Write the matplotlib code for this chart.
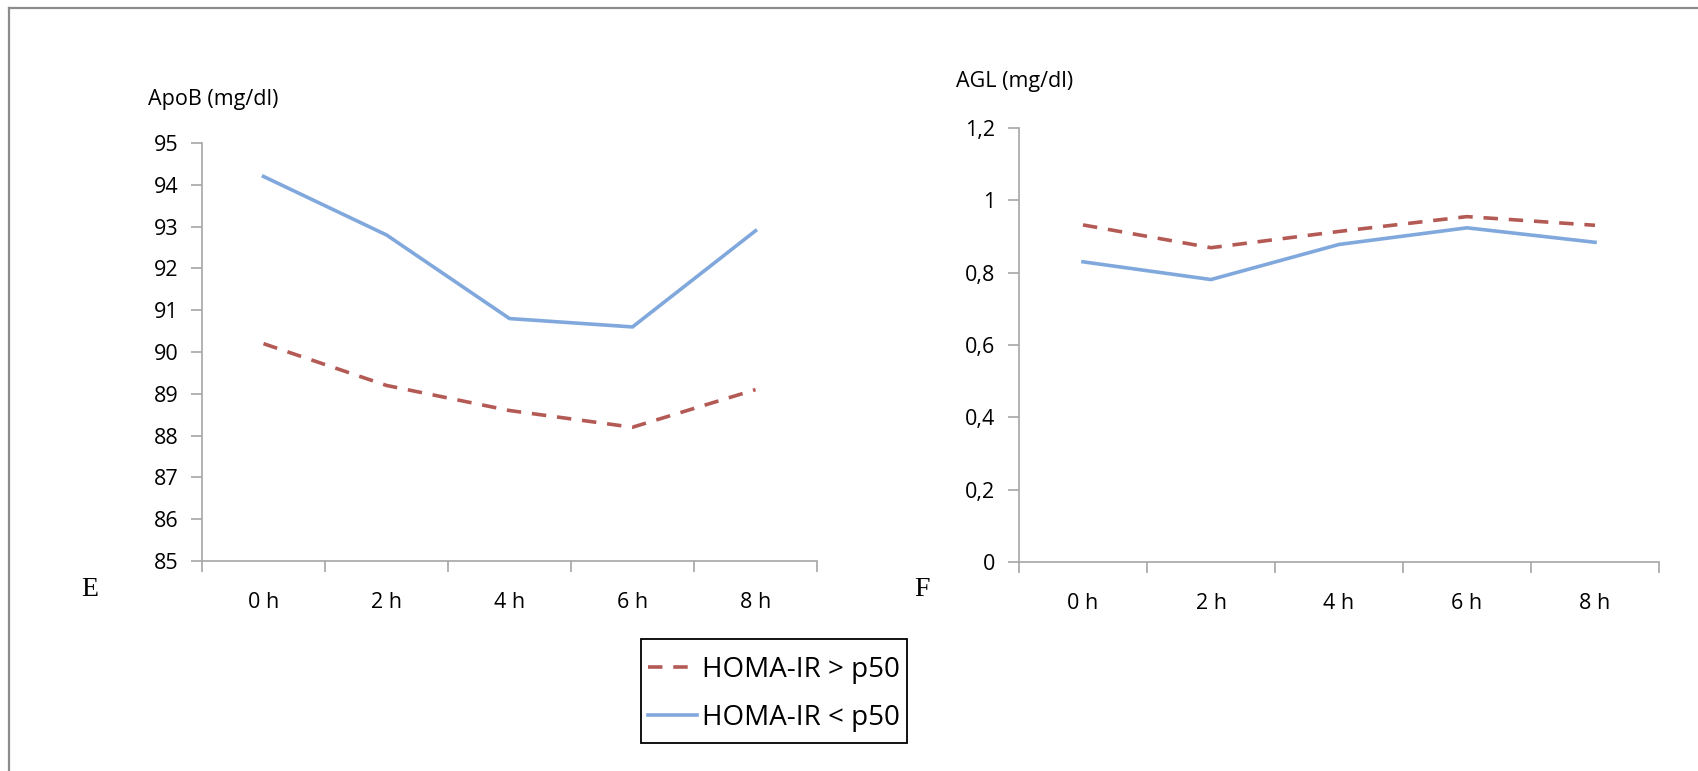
import matplotlib
matplotlib.use("Agg")
import matplotlib.pyplot as plt
from matplotlib.lines import Line2D
from matplotlib.patches import Rectangle

# dados
horas = ["0 h", "2 h", "4 h", "6 h", "8 h"]
apob_alto = [90.2, 89.2, 88.6, 88.2, 89.1]     # HOMA-IR > p50
apob_baixo = [94.2, 92.8, 90.8, 90.6, 92.9]    # HOMA-IR < p50
agl_alto = [0.932, 0.869, 0.914, 0.955, 0.931]
agl_baixo = [0.830, 0.781, 0.878, 0.924, 0.884]

apob_ticks = list(range(85, 96))
agl_ticks = [0, 0.2, 0.4, 0.6, 0.8, 1.0, 1.2]
agl_labels = ["0", "0,2", "0,4", "0,6", "0,8", "1", "1,2"]

cor_alto = "#b45a55"
cor_baixo = "#80a8dc"
cor_eixo = "#a6a6a6"
fonte = "Open Sans"
tam = 15.5

W, H = 1698, 771
fig = plt.figure(figsize=(W / 100, H / 100), dpi=100)


def px_axes(x0, y0, x1, y1):
    # coordenadas em pixels (origem no topo) -> fração da figura
    return fig.add_axes([x0 / W, 1 - y1 / H, (x1 - x0) / W, (y1 - y0) / H])


def estiliza(ax, ticks, labels, ylim):
    x = range(len(horas))
    ax.set_xlim(-0.5, len(horas) - 0.5)
    ax.set_ylim(*ylim)
    ax.set_xticks(list(x))
    ax.set_xticklabels(horas, fontfamily=fonte, fontsize=tam)
    ax.set_xticks([i - 0.5 for i in range(len(horas) + 1)], minor=True)
    ax.tick_params(axis="x", which="major", length=0, pad=22)
    ax.tick_params(axis="x", which="minor", length=8, width=1.2, color=cor_eixo, direction="out")
    ax.set_yticks(ticks)
    ax.set_yticklabels(labels, fontfamily=fonte, fontsize=tam)
    ax.tick_params(axis="y", length=8, width=1.2, color=cor_eixo, pad=9)
    for s in ["top", "right"]:
        ax.spines[s].set_visible(False)
    for s in ["left", "bottom"]:
        ax.spines[s].set_color(cor_eixo)
        ax.spines[s].set_linewidth(1.2)
    ax.spines["bottom"].set_zorder(0)


# painel E - ApoB
ax1 = px_axes(202, 143, 817, 561)
x = list(range(len(horas)))
l1, = ax1.plot(x, apob_alto, color=cor_alto, lw=2.6, dashes=(4, 3), label="HOMA-IR > p50")
l2, = ax1.plot(x, apob_baixo, color=cor_baixo, lw=2.6, label="HOMA-IR < p50")
estiliza(ax1, apob_ticks, [str(t) for t in apob_ticks], (85, 95))

# painel F - AGL
ax2 = px_axes(1019, 128, 1659, 562)
ax2.plot(x, agl_alto, color=cor_alto, lw=2.6, dashes=(4, 3))
ax2.plot(x, agl_baixo, color=cor_baixo, lw=2.6)
estiliza(ax2, agl_ticks, agl_labels, (0, 1.2))

# títulos dos eixos
fig.text(148 / W, 1 - 99 / H, "ApoB (mg/dl)", fontfamily=fonte, fontsize=tam, va="center", ha="left")
fig.text(956 / W, 1 - 81 / H, "AGL (mg/dl)", fontfamily=fonte, fontsize=tam, va="center", ha="left")

# letras dos painéis
fig.text(90 / W, 1 - 590 / H, "E", fontfamily="Liberation Serif", fontsize=20, va="center", ha="center")
fig.text(922 / W, 1 - 590 / H, "F", fontfamily="Liberation Serif", fontsize=20, va="center", ha="center")

# legenda (sem moldura própria; moldura desenhada à parte)
leg = fig.legend(handles=[l1, l2], loc="center", bbox_to_anchor=(774 / W, 1 - 694 / H),
                 prop={"family": fonte, "size": 20}, frameon=False,
                 handlelength=1.75, handletextpad=0.2,
                 borderpad=0.25, labelspacing=0.72, borderaxespad=0)
fig.add_artist(Rectangle((641 / W, 1 - 743 / H), 266 / W, 104 / H, transform=fig.transFigure,
                         fill=False, edgecolor="black", lw=1.3))

# moldura cinza (topo e esquerda)
fig.add_artist(Line2D([9 / W, 1], [1 - 7.5 / H, 1 - 7.5 / H], transform=fig.transFigure,
                      color="#8c8c8c", lw=1.6))
fig.add_artist(Line2D([9 / W, 9 / W], [0, 1 - 7.5 / H], transform=fig.transFigure,
                      color="#8c8c8c", lw=1.6))

fig.savefig("out.png", dpi=100)
plt.close(fig)
